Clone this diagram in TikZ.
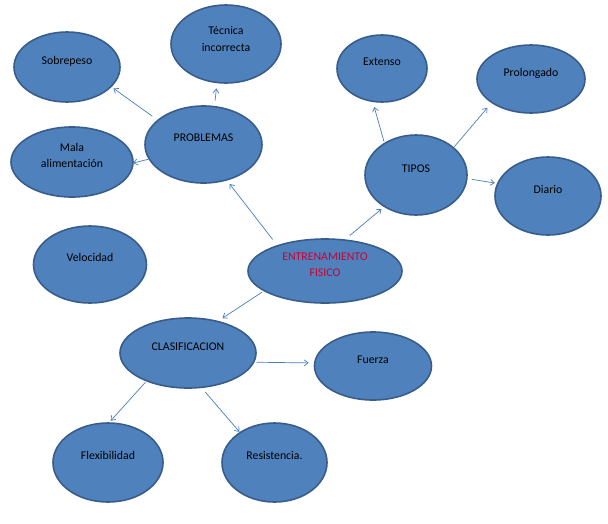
\documentclass[tikz,border=0pt]{standalone}
\usepackage{fontspec}
\setmainfont{Carlito}
\usetikzlibrary{shapes.geometric,arrows.meta}

\definecolor{relleno}{RGB}{79,129,189}
\definecolor{borde}{RGB}{56,93,138}
\definecolor{flecha}{RGB}{74,126,187}
\definecolor{rojo}{RGB}{204,0,51}

\tikzset{
  burbuja/.style={ellipse, draw=borde, fill=relleno, line width=1.6pt,
    inner sep=0pt, outer sep=0pt, align=center,
    text height=8pt, text depth=14pt,
    font=\fontsize{11.8}{16.5}\selectfont},
  burbuja2/.style={burbuja, text height=24pt, text depth=13pt},
  une/.style={draw=flecha, line width=0.7pt,
    -{Straight Barb[length=4pt,width=6pt]}}
}

\begin{document}
\begin{tikzpicture}[x=1pt, y=-1pt]
            \fill[white] (0,0) rectangle (608,523);
            \useasboundingbox (0,0) rectangle (608,523);

            \node[burbuja2, text=rojo, minimum width=154pt, minimum height=64pt] (entrena) at (325,271) {ENTRENAMIENTO\\FISICO};
            \node[burbuja, minimum width=117pt, minimum height=77pt] (problemas) at (203.5,144.5) {PROBLEMAS};
            \node[burbuja, minimum width=102pt, minimum height=80pt] (tipos) at (416,175) {TIPOS};
            \node[burbuja, minimum width=136pt, minimum height=70pt] (clasif) at (188,353) {CLASIFICACION};

            \node[burbuja, minimum width=106pt, minimum height=70pt] (sobrepeso) at (67,67) {Sobrepeso};
            \node[burbuja2, text depth=10pt, minimum width=110pt, minimum height=78pt] (tecnica) at (226,44) {Técnica\\incorrecta};
            \node[burbuja2, minimum width=122pt, minimum height=70pt] (mala) at (72,162) {Mala\\alimentación};
            \node[burbuja, minimum width=113pt, minimum height=77pt] (velocidad) at (90,264.5) {Velocidad};

            \node[burbuja, minimum width=90pt, minimum height=67pt] (extenso) at (382,68.5) {Extenso};
            \node[burbuja, minimum width=108pt, minimum height=68pt] (prolongado) at (531,79) {Prolongado};
            \node[burbuja, minimum width=106pt, minimum height=78pt] (diario) at (548,196) {Diario};

            \node[burbuja, minimum width=117pt, minimum height=68pt] (fuerza) at (373,366) {Fuerza};
            \node[burbuja, minimum width=110pt, minimum height=79pt] (flex) at (108,462.5) {Flexibilidad};
            \node[burbuja, minimum width=105pt, minimum height=79pt] (resist) at (274.5,462.5) {Resistencia.};

            \draw[une, shorten <=8pt, shorten >=5pt] (entrena.152) -- (problemas.303);
            \draw[une, shorten <=7pt, shorten >=4pt] (entrena.58) -- (tipos.225);
            \draw[une, shorten <=3pt, shorten >=6pt] (entrena.198) -- (clasif.47);

            \draw[une, shorten <=7pt, shorten >=3pt] (problemas.152) -- (sobrepeso.336);
            \draw[une, shorten <=6pt, shorten >=6pt] (problemas.74) -- (tecnica.257);
            \draw[une, shorten <=1pt] (problemas.195) -- (mala.359);

            \draw[une, shorten <=2pt, shorten >=6pt] (tipos.135) -- (extenso.254);
            \draw[une, shorten <=1pt, shorten >=7pt] (tipos.36) -- (prolongado.211);
            \draw[une, shorten <=5pt, shorten >=3pt] (tipos.356) -- (diario.166);

            \draw[une, shorten <=3pt, shorten >=6pt] (clasif.352) -- (fuerza.177);
            \draw[une, shorten <=2pt, shorten >=3pt] (clasif.214) -- (flex.89);
            \draw[une, shorten <=6pt, shorten >=1pt] (clasif.291) -- (resist.139);
        \end{tikzpicture}
\end{document}
